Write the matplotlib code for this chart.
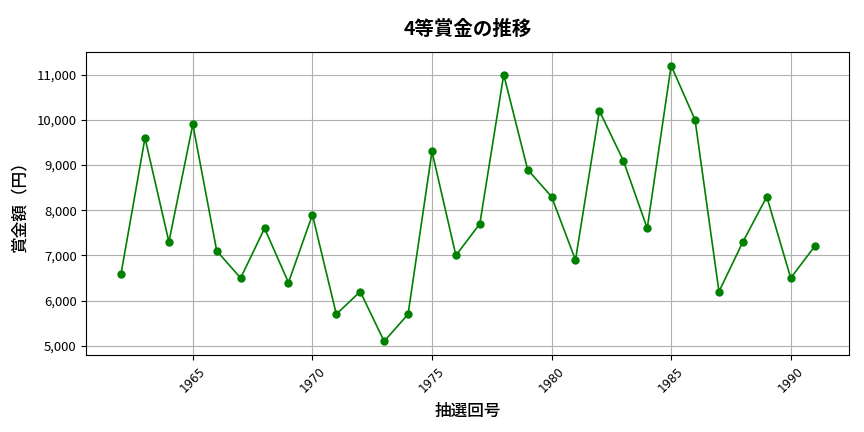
import matplotlib
matplotlib.use("Agg")
import matplotlib.pyplot as plt
from matplotlib.ticker import FuncFormatter

plt.rcParams['font.family'] = ['Noto Sans CJK JP', 'DejaVu Sans']

years = list(range(1962, 1992))
prizes = [6600, 9600, 7300, 9900, 7100, 6500, 7600, 6400, 7900, 5700,
          6200, 5100, 5700, 9300, 7000, 7700, 11000, 8900, 8300, 6900,
          10200, 9100, 7600, 11200, 10000, 6200, 7300, 8300, 6500, 7200]

fig, ax = plt.subplots(figsize=(8.64, 4.32), dpi=100)
ax.plot(years, prizes, color='green', marker='o', markersize=5, linewidth=1.2)
ax.set_title('4等賞金の推移', fontsize=14, fontweight='bold', pad=12)
ax.set_xlabel('抽選回号', fontsize=12, fontweight='medium', labelpad=5)
ax.set_ylabel('賞金額（円）', fontsize=12, fontweight='medium', labelpad=6)
ax.yaxis.set_major_formatter(FuncFormatter(lambda v, p: f'{int(v):,}'))
ax.tick_params(axis='x', labelrotation=45, labelsize=8.5)
ax.tick_params(axis='y', labelsize=9.5)
for lbl in ax.get_xticklabels():
    lbl.set_fontfamily('DejaVu Sans')
ax.grid(True, color='#b0b0b0', linewidth=0.8)
fig.subplots_adjust(left=0.1, right=0.983, top=0.88, bottom=0.178)
fig.savefig('out.png', dpi=100)
